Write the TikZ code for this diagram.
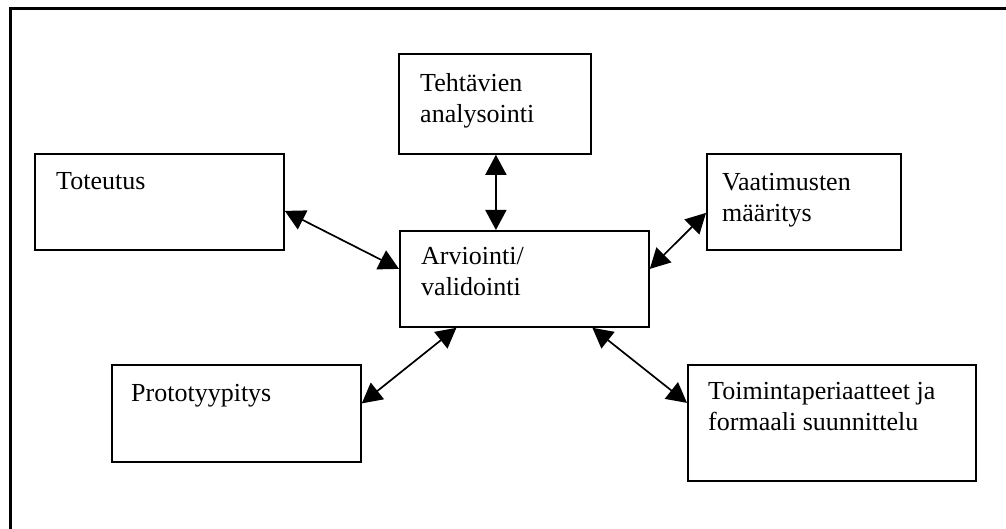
\documentclass[tikz,border=0pt]{standalone}
\usepackage{fontspec}
\setmainfont{Liberation Serif}
\usetikzlibrary{arrows.meta}
\begin{document}
\begin{tikzpicture}[x=1pt,y=-1pt,
  box/.style={draw,line width=1.8pt,inner sep=0pt,anchor=north west},
  lbl/.style={anchor=base west,inner sep=0pt,align=left,
    font=\fontsize{26}{31}\selectfont},
  link/.style={line width=1.7pt,
    {Triangle[length=20pt,width=21pt]}-{Triangle[length=20pt,width=21pt]}}]
\useasboundingbox (0,0) rectangle (1006,529);
% open frame: only the top and left edges fall inside the page
\draw[line width=3pt] (10,529) -- (10,9) -- (1006,9);

% boxes
\node[box,minimum width=192pt,minimum height=100pt] (teh) at (398,53) {};
\node[box,minimum width=249pt,minimum height=96pt]  (tot) at (34,153) {};
\node[box,minimum width=194pt,minimum height=96pt]  (vaa) at (706,153) {};
\node[box,minimum width=249pt,minimum height=96pt]  (arv) at (399,230) {};
\node[box,minimum width=249pt,minimum height=97pt]  (pro) at (111,364) {};
\node[box,minimum width=288pt,minimum height=116pt] (toi) at (687,364) {};

% texts (base anchor sits on the last line of a two-line label)
\node[lbl] (teh-t) at ([xshift=22pt,yshift=-70pt]teh.north west) {Tehtävien\\analysointi};
\node[lbl] (tot-t) at ([xshift=22pt,yshift=-37pt]tot.north west) {Toteutus};
\node[lbl] (vaa-t) at ([xshift=16pt,yshift=-69pt]vaa.north west) {Vaatimusten\\määritys};
\node[lbl] (arv-t) at ([xshift=22pt,yshift=-65pt]arv.north west) {Arviointi/\\validointi};
\node[lbl] (pro-t) at ([xshift=20pt,yshift=-37pt]pro.north west) {Prototyypitys};
\node[lbl] (toi-t) at ([xshift=21pt,yshift=-66pt]toi.north west) {Toimintaperiaatteet ja\\formaali suunnittelu};

% connectors
\draw[link] ([xshift=1pt]teh.south) -- ([xshift=1pt]teh.south |- arv.north);
\draw[link] ([yshift=-9pt]tot.east) -- ([yshift=10pt]arv.west);
\draw[link] ([yshift=-11pt]vaa.west) -- ([yshift=10pt]arv.east);
\draw[link] ([yshift=10pt]pro.east) -- ([xshift=-68pt]arv.south);
\draw[link] ([yshift=20pt]toi.west) -- ([xshift=68pt]arv.south);
\end{tikzpicture}
\end{document}
